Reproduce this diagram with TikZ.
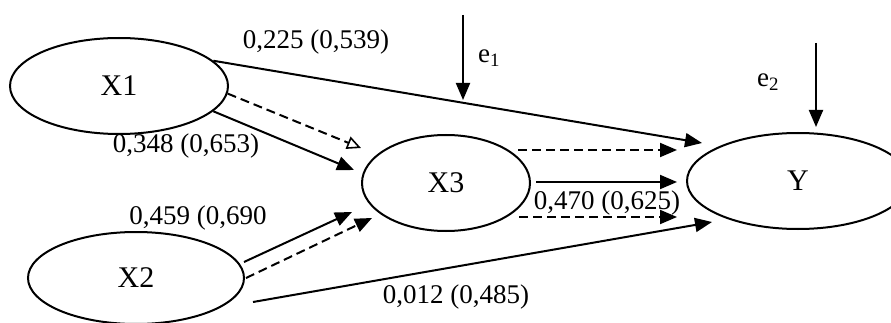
\documentclass[tikz,border=0pt]{standalone}
\usepackage{fontspec}
\setmainfont{Liberation Serif}
\usetikzlibrary{arrows.meta,shapes.geometric,calc}
\begin{document}
\begin{tikzpicture}[x=1pt,y=-1pt,
  var/.style={ellipse,draw,line width=2pt,inner sep=0pt,font=\fontsize{30}{32}\selectfont},
  lbl/.style={inner sep=0pt,font=\fontsize{27}{30}\selectfont},
  solidarrow/.style={line width=2pt,-{Triangle[length=17pt,width=14pt]}},
  dasharrow/.style={line width=2pt,dash pattern=on 9pt off 5pt,-{Triangle[length=17pt,width=14pt]}},
  openarrow/.style={line width=2pt,dash pattern=on 9pt off 5pt,-{Triangle[open,length=14pt,width=13pt,line width=1.6pt]}}]
\useasboundingbox (0,0) rectangle (891,323);
\node[var,minimum width=218pt,minimum height=96pt] (X1) at (119,86) {X1};
\node[var,minimum width=216pt,minimum height=92pt] (X2) at (136,278) {X2};
\node[var,minimum width=168pt,minimum height=96pt] (X3) at (446,183) {X3};
\node[var,minimum width=222pt,minimum height=96pt] (Y) at (798,181) {Y};
% X1 -> Y
\draw[solidarrow] (X1.15) -- ($(Y.west)+(16,-38)$);
% X1 -> X3
\draw[openarrow] (X1.-4) -- ($(X3.west)+(0,-35)$);
\draw[solidarrow] (X1.-15) -- ($(X3.west)+(-7,-13)$);
% X2 -> X3
\draw[solidarrow] ($(X2.east)+(-1,-16)$) -- ($(X3.west)+(-9,29)$);
\draw[dasharrow] ($(X2.east)+(1,0)$) -- ($(X3.west)+(11,35)$);
% X2 -> Y
\draw[solidarrow] ($(X2.east)+(8,24)$) -- ($(Y.west)+(26,41)$);
% X3 -> Y
\draw[dasharrow] ($(X3.east)+(-13,-33)$) -- ($(Y.west)+(-9,-31)$);
\draw[solidarrow] ($(X3.east)+(5,-1)$) -- ($(Y.west)+(-9,1)$);
\draw[dasharrow] ($(X3.east)+(-12,34)$) -- ($(Y.west)+(-9,36)$);
% error terms
\coordinate (e1top) at (463,15);
\coordinate (e1end) at (463,100);
\coordinate (e2top) at (816,43);
\draw[solidarrow] (e1top) -- (e1end);
\draw[solidarrow] (e2top) -- ($(Y.north)+(18,-5)$);
% labels
\node[lbl] (l1) at (316,42) {0,225 (0,539)};
\node[lbl] (l2) at (186,146) {0,348 (0,653)};
\node[lbl] (l3) at (198,218) {0,459 (0,690};
\node[lbl] (l4) at (607,203) {0,470 (0,625)};
\node[lbl] (l5) at (456,297) {0,012 (0,485)};
\node[lbl] (le1) at (489,58) {e\textsubscript{1}};
\node[lbl] (le2) at (768,82) {e\textsubscript{2}};
\end{tikzpicture}
\end{document}
